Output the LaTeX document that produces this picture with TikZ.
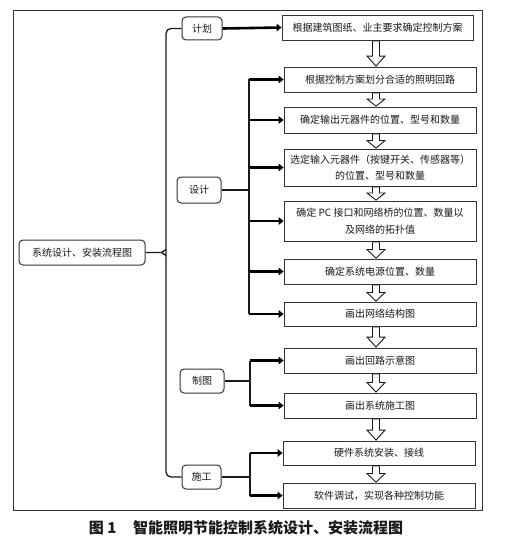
\documentclass[tikz,border=0pt]{standalone}
\usepackage{fontspec}
\setmainfont{Noto Sans CJK SC}
\usetikzlibrary{arrows.meta,calc}
\definecolor{ink}{HTML}{1A1A1A}
\definecolor{edge}{HTML}{333333}
\tikzset{
  stepbox/.style={draw=edge,line width=0.8pt,rectangle,align=center,inner sep=1pt,
    font=\fontsize{10}{16.5}\selectfont,text=ink},
  stage/.style={draw=edge,line width=1pt,rounded corners=4pt,align=center,inner sep=1pt,
    font=\fontsize{10}{12}\selectfont,text=ink},
  thickarrow/.style={line width=2.6pt,draw=black,-{Triangle[length=5pt,width=7.5pt]}},
  bus/.style={line width=1.2pt,draw=ink},
  trunk/.style={line width=1.3pt,draw=ink},
  hollow/.style={draw=ink,line width=0.9pt,fill=white,line join=miter},
}
\newcommand\harrow[2]{%
  \path[hollow] let \p1=(#1.south), \p2=(#2.north), \n1={\y1-0.5pt}, \n2={\y2+0.5pt},
    \n3={min(10pt,0.5*(\y1-\y2))} in
    (372.5pt,\n1) -- (379.5pt,\n1) -- (379.5pt,\n2+\n3) -- (385pt,\n2+\n3) --
    (376pt,\n2) -- (367pt,\n2+\n3) -- (372.5pt,\n2+\n3) -- cycle;}
\begin{document}
\begin{tikzpicture}[x=1pt,y=-1pt]
\useasboundingbox (0,0) rectangle (505,559);
\fill[white] (0,0) rectangle (505,559);
% outer frame
\draw[line width=1pt,draw=edge] (13,11) rectangle (482,510);
% root and stage nodes
\node[stage,minimum width=126pt,minimum height=25pt] (root) at (82,252.5) {系统设计、安装流程图};
\node[stage,minimum width=40pt,minimum height=23pt] (jihua) at (202,28.5) {计划};
\node[stage,minimum width=44pt,minimum height=26pt] (sheji) at (199,190) {设计};
\node[stage,minimum width=44pt,minimum height=24pt] (zhitu) at (202,381) {制图};
\node[stage,minimum width=39pt,minimum height=24pt] (shigong) at (201.5,477) {施工};
% step boxes
\node[stepbox,minimum width=191pt,minimum height=25pt] (b1) at (377.5,27.5) {根据建筑图纸、业主要求确定控制方案};
\node[stepbox,minimum width=192pt,minimum height=25pt] (b2) at (380,79.5) {根据控制方案划分合适的照明回路};
\node[stepbox,minimum width=192pt,minimum height=26pt] (b3) at (380,120) {确定输出元器件的位置、型号和数量};
\node[stepbox,minimum width=192pt,minimum height=37pt] (b4) at (380,167.5) {选定输入元器件（按键开关、传感器等）\\的位置、型号和数量};
\node[stepbox,minimum width=192pt,minimum height=40pt] (b5) at (380,221) {确定 PC 接口和网络桥的位置、数量以\\及网络的拓扑值};
\node[stepbox,minimum width=192pt,minimum height=25pt] (b6) at (380,271.5) {确定系统电源位置、数量};
\node[stepbox,minimum width=192pt,minimum height=24pt] (b7) at (380,314) {画出网络结构图};
\node[stepbox,minimum width=192pt,minimum height=25pt] (b8) at (380,360.5) {画出回路示意图};
\node[stepbox,minimum width=192pt,minimum height=25pt] (b9) at (380,405.5) {画出系统施工图};
\node[stepbox,minimum width=192pt,minimum height=24pt] (b10) at (379,453) {硬件系统安装、接线};
\node[stepbox,minimum width=192pt,minimum height=25pt] (b11) at (379,495.5) {软件调试，实现各种控制功能};
% trunk
\coordinate (tk) at (166,252.5);
\coordinate (tj) at (161.5,252.5);
\draw[trunk,rounded corners=5pt] (jihua.west) -| (tk) |- (shigong.west);
\draw[trunk] (root.east) -- (tj) -- (166,249.5) (tj) -- (166,255.5);
% plan branch
\draw[thickarrow] (jihua.east) -- (b1.west);
% design bus
\coordinate (busD) at (249,0);
\draw[bus] (sheji.east) -- (busD |- sheji.east);
\draw[bus] (busD |- b2.west) -- (busD |- b7.west);
\foreach \b in {b2,b3,b4,b5,b6,b7} \draw[thickarrow] (busD |- \b.west) -- (\b.west);
% drawing bus
\coordinate (busZ) at (250,0);
\draw[bus] (zhitu.east) -- (busZ |- zhitu.east);
\draw[bus] (busZ |- b8.west) -- (busZ |- b9.west);
\foreach \b in {b8,b9} \draw[thickarrow] (busZ |- \b.west) -- (\b.west);
% construction bus
\coordinate (busS) at (250,0);
\draw[bus] (shigong.east) -- (busS |- shigong.east);
\draw[bus] (busS |- b10.west) -- (busS |- b11.west);
\foreach \b in {b10,b11} \draw[thickarrow] (busS |- \b.west) -- (\b.west);
% hollow arrows
\harrow{b1}{b2}\harrow{b2}{b3}\harrow{b3}{b4}\harrow{b4}{b5}\harrow{b5}{b6}
\harrow{b6}{b7}\harrow{b7}{b8}\harrow{b8}{b9}\harrow{b9}{b10}\harrow{b10}{b11}
% caption
\node[font=\fontsize{15}{18}\selectfont\bfseries,text=ink,inner sep=0pt] (cap) at (246,528) {图 1\hspace{1.1em}智能照明节能控制系统设计、安装流程图};
\end{tikzpicture}
\end{document}
